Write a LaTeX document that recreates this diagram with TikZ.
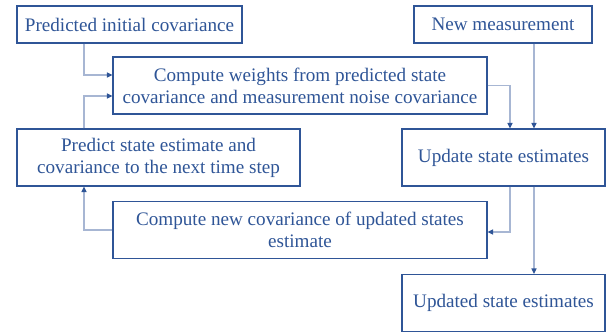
\documentclass[tikz,border=0pt]{standalone}
\usepackage{fontspec}
\setmainfont{Liberation Serif}
\usetikzlibrary{arrows.meta}
\definecolor{boxblue}{HTML}{2F5597}
\definecolor{txtblue}{HTML}{2F5597}
\definecolor{linegray}{HTML}{A7B6D3}
\definecolor{tipblue}{HTML}{2F5597}
\tikzset{
  box/.style={draw=boxblue, line width=1.1bp, text=txtblue, inner sep=0pt,
    align=center, font=\fontsize{19.2}{22}\selectfont},
  conn/.style={draw=linegray, line width=1.1bp,
    -{Triangle[length=5.5bp,width=5bp,color=tipblue]}}
}
\begin{document}
\begin{tikzpicture}[x=1bp,y=-1bp]
\useasboundingbox[fill=white] (0,0) rectangle (610,332);
\node[box, minimum width=225bp, minimum height=37bp] (A) at (129.5,24.5) {Predicted initial covariance};
\node[box, minimum width=178bp, minimum height=37bp] (B) at (503,24.5) {New measurement};
\node[box, minimum width=374bp, minimum height=57bp] (C) at (300,85.5) {Compute weights from predicted state\\covariance and measurement noise covariance};
\node[box, minimum width=283bp, minimum height=57bp] (D) at (158.5,157.5) {Predict state estimate and\\covariance to the next time step};
\node[box, minimum width=203bp, minimum height=57bp] (E) at (503.5,157.5) {Update state estimates};
\node[box, minimum width=374bp, minimum height=57bp] (F) at (300,230) {Compute new covariance of updated states\\estimate};
\node[box, minimum width=203bp, minimum height=57bp] (G) at (503.5,303) {Updated state estimates};
\coordinate (a1) at (84,75);
\coordinate (d1) at (84,96);
\coordinate (ce) at (510,0);
\coordinate (be) at (534,0);
\coordinate (ef) at (510,232);
\coordinate (fd) at (84,230);
\draw[conn] (a1 |- A.south) |- (a1 -| C.west);
\draw[conn] (d1 |- D.north) |- (d1 -| C.west);
\draw[conn] (C.east) -| (ce |- E.north);
\draw[conn] (be |- B.south) -- (be |- E.north);
\draw[conn] (ef |- E.south) |- (F.east |- ef);
\draw[conn] (be |- E.south) -- (be |- G.north);
\draw[conn] (F.west |- fd) -| (fd |- D.south);
\end{tikzpicture}
\end{document}
